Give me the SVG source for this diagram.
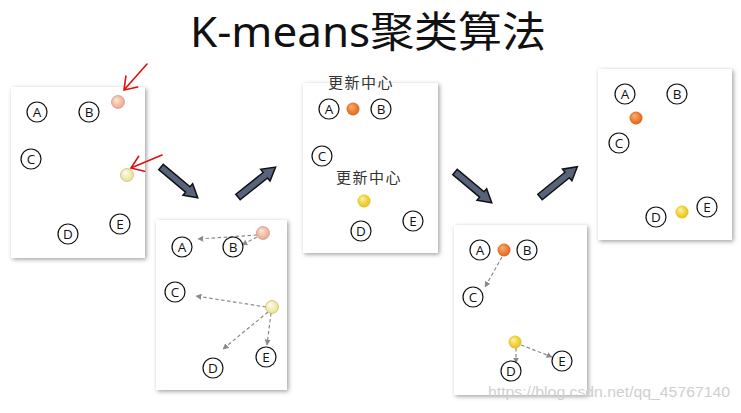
<svg xmlns="http://www.w3.org/2000/svg" width="741" height="413" viewBox="0 0 741 413">
<style>
.panel{fill:#fff;filter:url(#sh)}
.nd circle{fill:#fff;stroke:#111;stroke-width:1.2}
.nd text{font-family:"Open Sans","Liberation Sans",sans-serif;font-size:13.5px;fill:#111;text-anchor:middle}
.dash{stroke:#8a8a8a;stroke-width:1.2;stroke-dasharray:3.5,2.5;fill:none;marker-end:url(#dh)}
.red{stroke:#e01010;stroke-width:1.6;fill:none;stroke-linecap:round}
.big{fill:#56637a;stroke:#111;stroke-width:1.5;stroke-linejoin:miter}
.upd{font-family:"Noto Sans CJK SC",sans-serif;font-size:15px;fill:#333;text-anchor:middle;letter-spacing:1.5px}
</style>
<defs>
<filter id="sh" x="-10%" y="-10%" width="125%" height="125%">
<feDropShadow dx="1.5" dy="1.5" stdDeviation="2" flood-color="#777" flood-opacity="0.7"/>
</filter>
<marker id="dh" viewBox="0 0 10 10" refX="9" refY="5" markerWidth="5" markerHeight="5" orient="auto"><path d="M0,0 L10,5 L0,10 z" fill="#8a8a8a"/></marker>
<radialGradient id="gPeach" cx="50%" cy="50%" r="60%" fx="35%" fy="30%"><stop offset="0" stop-color="#fde8dc"/><stop offset="1" stop-color="#e8a080"/></radialGradient>
<radialGradient id="gPale" cx="50%" cy="50%" r="60%" fx="35%" fy="30%"><stop offset="0" stop-color="#fffef0"/><stop offset="1" stop-color="#e6dc8a"/></radialGradient>
<radialGradient id="gOrange" cx="50%" cy="50%" r="60%" fx="35%" fy="30%"><stop offset="0" stop-color="#ffb070"/><stop offset="1" stop-color="#d85a10"/></radialGradient>
<radialGradient id="gYellow" cx="50%" cy="50%" r="60%" fx="35%" fy="30%"><stop offset="0" stop-color="#fff5a0"/><stop offset="1" stop-color="#e0b800"/></radialGradient>
<path id="bigArrow" d="M0,-3.5 L35,-3.5 L35,-7.5 L48,0 L35,7.5 L35,3.5 L0,3.5 Z"/>
</defs>
<rect width="741" height="413" fill="#fff"/>
<text x="190" y="47" font-family="Noto Sans,Noto Sans CJK SC,sans-serif" font-size="42" fill="#111" textLength="356" lengthAdjust="spacingAndGlyphs">K-means聚类算法</text>

<!-- panels -->
<rect class="panel" x="11" y="87" width="134" height="171"/>
<rect class="panel" x="156" y="220" width="131" height="170"/>
<rect class="panel" x="303" y="83" width="135" height="170"/>
<rect class="panel" x="454" y="225" width="133" height="170"/>
<rect class="panel" x="598" y="69" width="134" height="171"/>

<g id="connectors">
<use href="#bigArrow" class="big" transform="translate(161,167) rotate(40)"/>
<use href="#bigArrow" class="big" transform="translate(238,197) rotate(-38.5)"/>
<use href="#bigArrow" class="big" transform="translate(455,172) rotate(40)"/>
<use href="#bigArrow" class="big" transform="translate(540,197) rotate(-39)"/>
<path class="red" d="M147,64 L124,90 M137.7,87 L124,90 L125.9,76.1"/>
<path class="red" d="M162,155 L131,168 M144.6,171.2 L131,168 L138.7,156.3"/>
<line class="dash" x1="257" y1="235" x2="198" y2="239"/>
<line class="dash" x1="257" y1="237" x2="242" y2="245"/>
<line class="dash" x1="266" y1="307" x2="196" y2="296"/>
<line class="dash" x1="268" y1="312" x2="223" y2="349"/>
<line class="dash" x1="271" y1="313" x2="267" y2="345"/>
<line class="dash" x1="502" y1="257" x2="485" y2="287"/>
<line class="dash" x1="516" y1="348" x2="516" y2="363"/>
<line class="dash" x1="521" y1="345" x2="552" y2="357"/>
</g>

<!-- panel 1 -->
<g id="p1-A" class="nd"><circle cx="37" cy="112" r="10"/><text x="37" y="117">A</text></g>
<g id="p1-B" class="nd"><circle cx="89" cy="112" r="10"/><text x="89" y="117">B</text></g>
<g id="p1-C" class="nd"><circle cx="31" cy="159" r="10"/><text x="31" y="164">C</text></g>
<g id="p1-D" class="nd"><circle cx="68" cy="234" r="10"/><text x="68" y="239">D</text></g>
<g id="p1-E" class="nd"><circle cx="120" cy="224" r="10"/><text x="120" y="229">E</text></g>
<g id="p1-k1"><circle cx="118" cy="102" r="6.5" fill="url(#gPeach)" stroke="#c98a70" stroke-width="0.6"/></g>
<g id="p1-k2"><circle cx="127" cy="175" r="6.5" fill="url(#gPale)" stroke="#b8ae60" stroke-width="0.6"/></g>

<!-- panel 2 -->
<g id="p2-A" class="nd"><circle cx="182" cy="247" r="10"/><text x="182" y="252">A</text></g>
<g id="p2-B" class="nd"><circle cx="233" cy="247" r="10"/><text x="233" y="252">B</text></g>
<g id="p2-C" class="nd"><circle cx="175" cy="292" r="10"/><text x="175" y="297">C</text></g>
<g id="p2-D" class="nd"><circle cx="213" cy="368" r="10"/><text x="213" y="373">D</text></g>
<g id="p2-E" class="nd"><circle cx="266" cy="357" r="10"/><text x="266" y="362">E</text></g>
<g id="p2-k1"><circle cx="263" cy="233" r="6.5" fill="url(#gPeach)" stroke="#c98a70" stroke-width="0.6"/></g>
<g id="p2-k2"><circle cx="272" cy="307" r="6.5" fill="url(#gPale)" stroke="#b8ae60" stroke-width="0.6"/></g>

<!-- panel 3 -->
<text class="upd" x="361" y="88">更新中心</text>
<text class="upd" x="369" y="183">更新中心</text>
<g id="p3-A" class="nd"><circle cx="329" cy="109" r="10"/><text x="329" y="114">A</text></g>
<g id="p3-B" class="nd"><circle cx="381" cy="109" r="10"/><text x="381" y="114">B</text></g>
<g id="p3-C" class="nd"><circle cx="322" cy="156" r="10"/><text x="322" y="161">C</text></g>
<g id="p3-D" class="nd"><circle cx="361" cy="231" r="10"/><text x="361" y="236">D</text></g>
<g id="p3-E" class="nd"><circle cx="413" cy="221" r="10"/><text x="413" y="226">E</text></g>
<g id="p3-k1"><circle cx="353" cy="109" r="6.5" fill="url(#gOrange)"/></g>
<g id="p3-k2"><circle cx="364" cy="201" r="6.5" fill="url(#gYellow)"/></g>

<!-- panel 4 -->
<g id="p4-A" class="nd"><circle cx="480" cy="250" r="10"/><text x="480" y="255">A</text></g>
<g id="p4-B" class="nd"><circle cx="527" cy="250" r="10"/><text x="527" y="255">B</text></g>
<g id="p4-C" class="nd"><circle cx="473" cy="297" r="10"/><text x="473" y="302">C</text></g>
<g id="p4-D" class="nd"><circle cx="511" cy="371" r="10"/><text x="511" y="376">D</text></g>
<g id="p4-E" class="nd"><circle cx="562" cy="361" r="10"/><text x="562" y="366">E</text></g>
<g id="p4-k1"><circle cx="504" cy="250" r="6.5" fill="url(#gOrange)"/></g>
<g id="p4-k2"><circle cx="515" cy="342" r="6.5" fill="url(#gYellow)"/></g>

<!-- panel 5 -->
<g id="p5-A" class="nd"><circle cx="625" cy="94" r="10"/><text x="625" y="99">A</text></g>
<g id="p5-B" class="nd"><circle cx="677" cy="94" r="10"/><text x="677" y="99">B</text></g>
<g id="p5-C" class="nd"><circle cx="619" cy="143" r="10"/><text x="619" y="148">C</text></g>
<g id="p5-D" class="nd"><circle cx="656" cy="217" r="10"/><text x="656" y="222">D</text></g>
<g id="p5-E" class="nd"><circle cx="707" cy="207" r="10"/><text x="707" y="212">E</text></g>
<g id="p5-k1"><circle cx="636" cy="118" r="6.5" fill="url(#gOrange)"/></g>
<g id="p5-k2"><circle cx="682" cy="212" r="6.5" fill="url(#gYellow)"/></g>

<text x="488" y="397" font-family="Liberation Sans,sans-serif" font-size="15" fill="#cfcfcf" textLength="242" lengthAdjust="spacingAndGlyphs">https://blog.csdn.net/qq_45767140</text>
</svg>
